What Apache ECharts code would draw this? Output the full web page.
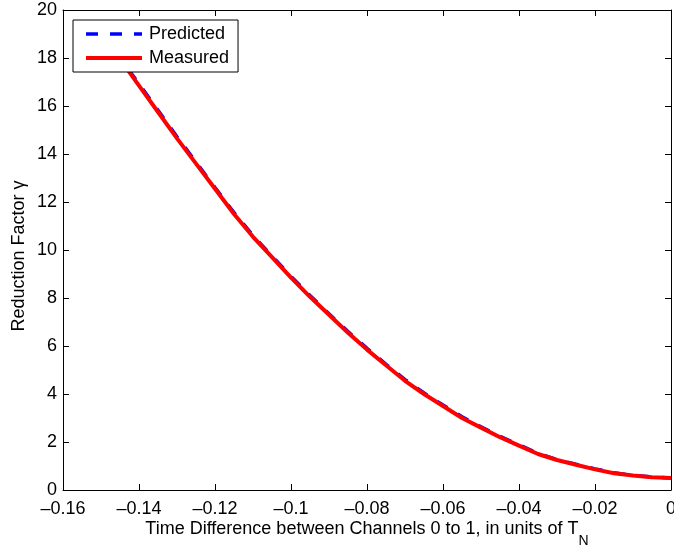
<!DOCTYPE html>
<html>
<head>
<meta charset="utf-8">
<script src="https://cdn.jsdelivr.net/npm/echarts@6/dist/echarts.min.js"></script>
<style>
  html, body { margin: 0; padding: 0; background: #fff; }
  #chart { width: 674px; height: 548px; }
</style>
</head>
<body>
<div id="chart"></div>
<script>
// Time difference between channels 0 and 1 (units of T_N)
const timeDiff = [-0.150, -0.145, -0.140, -0.135, -0.130, -0.125, -0.120, -0.115, -0.110, -0.105,
                  -0.100, -0.095, -0.090, -0.085, -0.080, -0.075, -0.070, -0.065, -0.060, -0.055,
                  -0.050, -0.045, -0.040, -0.035, -0.030, -0.025, -0.020, -0.015, -0.010, -0.005, 0.000];

// Reduction factor gamma: model prediction
const predicted = [19.15, 18.00, 16.92, 15.82, 14.72, 13.66, 12.60, 11.56, 10.60, 9.75,
                   8.90, 8.10, 7.34, 6.60, 5.90, 5.24, 4.60, 4.04, 3.54, 3.05,
                   2.63, 2.24, 1.88, 1.53, 1.27, 1.07, 0.88, 0.72, 0.61, 0.54, 0.50];

// Reduction factor gamma: measurement
const measured = [19.10, 17.95, 16.85, 15.75, 14.65, 13.60, 12.55, 11.50, 10.55, 9.70,
                  8.85, 8.05, 7.30, 6.55, 5.85, 5.20, 4.55, 4.00, 3.50, 3.00,
                  2.60, 2.20, 1.85, 1.50, 1.25, 1.05, 0.86, 0.70, 0.60, 0.53, 0.50];

const xTicks = { min: -0.16, max: 0, interval: 0.02 };
const yTicks = { min: 0, max: 20, interval: 2 };

const FONT = 'Liberation Sans, Arial, Helvetica, sans-serif';
const fmtX = v => {
  const r = Math.round(v * 100) / 100;
  return r < 0 ? '\u2013' + String(-r) : String(r);
};

const pairs = (xs, ys) => xs.map((x, i) => [x, ys[i]]);

const axisLine = { show: true, onZero: false, lineStyle: { color: '#000', width: 1 } };
const tickIn = { show: true, inside: true, length: 6, lineStyle: { color: '#000', width: 1 } };

const predStyle = { color: '#0000ff', width: 3.5, type: [12, 12] };
const measStyle = { color: '#ff0000', width: 4, type: 'solid' };

const chart = echarts.init(document.getElementById('chart'), null, { renderer: 'canvas' });
chart.setOption({
  animation: false,
  backgroundColor: '#fff',
  grid: { left: 63, right: 3, top: 10, bottom: 58, containLabel: false, outerBoundsMode: 'none' },
  xAxis: [
    {
      type: 'value', position: 'bottom', ...xTicks,
      axisLine, axisTick: tickIn, splitLine: { show: false },
      axisLabel: { color: '#000', fontFamily: FONT, fontSize: 18, margin: 10, formatter: fmtX },
      name: '{m|Time Difference between Channels 0 to 1, in units of T}{s|N}',
      nameLocation: 'middle', nameGap: 30, nameMoveOverlap: false,
      nameTextStyle: {
        color: '#000', fontFamily: FONT, verticalAlign: 'top',
        rich: {
          m: { fontFamily: FONT, fontSize: 18, color: '#000', lineHeight: 18, verticalAlign: 'top' },
          s: { fontFamily: FONT, fontSize: 14, color: '#000', lineHeight: 28, verticalAlign: 'bottom' }
        }
      }
    },
    {
      type: 'value', position: 'top', ...xTicks,
      axisLine, axisTick: tickIn, axisLabel: { show: false }, splitLine: { show: false }
    }
  ],
  yAxis: [
    {
      type: 'value', position: 'left', ...yTicks,
      axisLine, axisTick: tickIn, splitLine: { show: false },
      axisLabel: { color: '#000', fontFamily: FONT, fontSize: 18, margin: 6 },
      name: 'Reduction Factor \u03b3', nameLocation: 'middle', nameGap: 35, nameMoveOverlap: false,
      nameTextStyle: { color: '#000', fontFamily: FONT, fontSize: 18, padding: [0, 12, 0, 0] }
    },
    {
      type: 'value', position: 'right', ...yTicks,
      axisLine, axisTick: tickIn, axisLabel: { show: false }, splitLine: { show: false }
    }
  ],
  legend: {
    orient: 'vertical', left: 73, top: 20,
    backgroundColor: '#fff', borderColor: '#000', borderWidth: 1, borderRadius: 0,
    padding: [5, 9, 5, 11], itemGap: 6, itemWidth: 56, itemHeight: 14,
    itemStyle: { opacity: 0, color: 'rgba(0,0,0,0)', borderWidth: 0 },
    textStyle: { color: '#000', fontFamily: FONT, fontSize: 18, lineHeight: 18, padding: [0, 0, 0, 2] },
    data: [
      { name: 'Predicted', lineStyle: predStyle },
      { name: 'Measured', lineStyle: measStyle }
    ]
  },
  series: [
    {
      name: 'Predicted', type: 'line', data: pairs(timeDiff, predicted),
      symbol: 'none', smooth: false, z: 2,
      lineStyle: predStyle,
      itemStyle: { color: '#0000ff' }
    },
    {
      name: 'Measured', type: 'line', data: pairs(timeDiff, measured),
      symbol: 'none', smooth: false, z: 3,
      lineStyle: measStyle,
      itemStyle: { color: '#ff0000' }
    }
  ]
});
</script>
</body>
</html>
